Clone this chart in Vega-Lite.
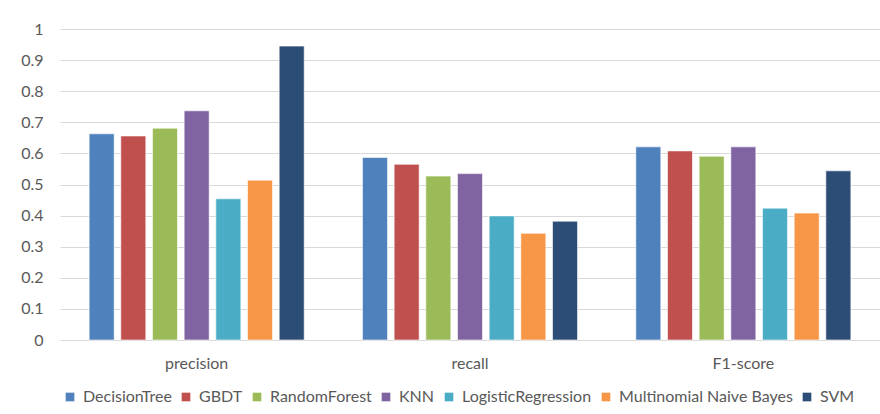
{
  "$schema": "https://vega.github.io/schema/vega-lite/v6.json",
  "width": 820,
  "height": 311,
  "autosize": "none",
  "padding": {"left": 60, "top": 29, "right": 0, "bottom": 74},
  "background": "white",
  "data": {
    "values": [
      {"metric": "precision", "model": "DecisionTree", "value": 0.663},
      {"metric": "precision", "model": "GBDT", "value": 0.656},
      {"metric": "precision", "model": "RandomForest", "value": 0.681},
      {"metric": "precision", "model": "KNN", "value": 0.737},
      {"metric": "precision", "model": "LogisticRegression", "value": 0.454},
      {"metric": "precision", "model": "Multinomial Naive Bayes", "value": 0.514},
      {"metric": "precision", "model": "SVM", "value": 0.945},
      {"metric": "recall", "model": "DecisionTree", "value": 0.587},
      {"metric": "recall", "model": "GBDT", "value": 0.565},
      {"metric": "recall", "model": "RandomForest", "value": 0.527},
      {"metric": "recall", "model": "KNN", "value": 0.535},
      {"metric": "recall", "model": "LogisticRegression", "value": 0.399},
      {"metric": "recall", "model": "Multinomial Naive Bayes", "value": 0.343},
      {"metric": "recall", "model": "SVM", "value": 0.382},
      {"metric": "F1-score", "model": "DecisionTree", "value": 0.621},
      {"metric": "F1-score", "model": "GBDT", "value": 0.608},
      {"metric": "F1-score", "model": "RandomForest", "value": 0.591},
      {"metric": "F1-score", "model": "KNN", "value": 0.621},
      {"metric": "F1-score", "model": "LogisticRegression", "value": 0.424},
      {"metric": "F1-score", "model": "Multinomial Naive Bayes", "value": 0.408},
      {"metric": "F1-score", "model": "SVM", "value": 0.544}
    ]
  },
  "mark": {"type": "bar", "stroke": "white", "strokeWidth": 0.6},
  "encoding": {
    "x": {
      "field": "metric",
      "type": "nominal",
      "sort": ["precision", "recall", "F1-score"],
      "scale": {"paddingInner": 0.19, "paddingOuter": 0.095},
      "axis": {
        "title": null,
        "labelAngle": 0,
        "domain": false,
        "ticks": false,
        "labelPadding": 15,
        "labelFont": "Lato",
        "labelFontSize": 16,
        "labelColor": "#595959"
      }
    },
    "xOffset": {
      "field": "model",
      "type": "nominal",
      "sort": ["DecisionTree", "GBDT", "RandomForest", "KNN", "LogisticRegression", "Multinomial Naive Bayes", "SVM"],
      "scale": {"paddingInner": 0.21, "paddingOuter": 0.1}
    },
    "y": {
      "field": "value",
      "type": "quantitative",
      "scale": {"domain": [0, 1]},
      "axis": {
        "title": null,
        "values": [0, 0.1, 0.2, 0.3, 0.4, 0.5, 0.6, 0.7, 0.8, 0.9, 1],
        "format": "~g",
        "domain": false,
        "ticks": false,
        "labelPadding": 17,
        "labelFont": "Lato",
        "labelFontSize": 16,
        "labelColor": "#595959",
        "gridColor": "#d9d9d9",
        "gridWidth": 1
      }
    },
    "color": {
      "field": "model",
      "type": "nominal",
      "scale": {
        "domain": ["DecisionTree", "GBDT", "RandomForest", "KNN", "LogisticRegression", "Multinomial Naive Bayes", "SVM"],
        "range": ["#4f81bd", "#c0504d", "#9bbb59", "#8064a2", "#4bacc6", "#f79646", "#2c4d75"]
      },
      "legend": {
        "title": null,
        "orient": "none",
        "legendX": 2,
        "legendY": 360,
        "direction": "horizontal",
        "symbolType": "square",
        "symbolSize": 75,
        "symbolStrokeWidth": 0,
        "labelFont": "Lato",
        "labelFontSize": 16,
        "labelLimit": 400,
        "labelColor": "#595959",
        "labelOffset": 5,
        "columnPadding": 6
      }
    }
  },
  "config": {
    "view": {"stroke": null}
  }
}
